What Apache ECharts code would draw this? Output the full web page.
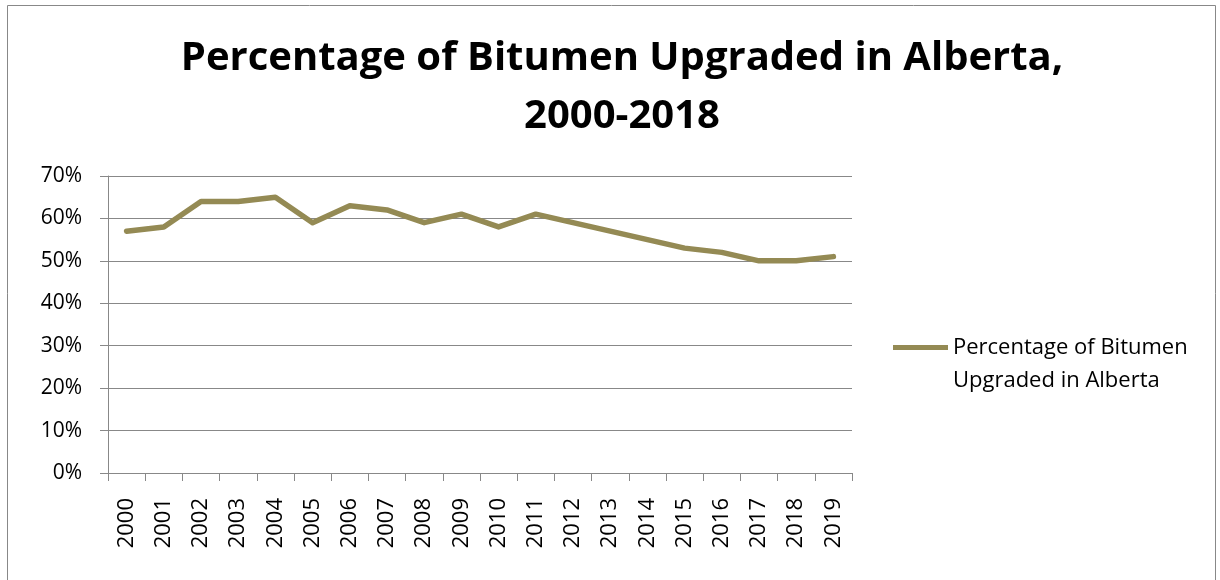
<!DOCTYPE html>
<html><head><meta charset="utf-8">
<script src="https://cdn.jsdelivr.net/npm/echarts@6/dist/echarts.min.js"></script>
<style>html,body{margin:0;padding:0;background:#fff}#c{width:1220px;height:580px}</style>
</head><body><div id="c"></div>
<script>
const years = ['2000','2001','2002','2003','2004','2005','2006','2007','2008','2009','2010','2011','2012','2013','2014','2015','2016','2017','2018','2019'];
const upgradedPct = [57,58,64,64,65,59,63,62,59,61,58,61,59,57,55,53,52,50,50,51];
const yTicks = [0,10,20,30,40,50,60,70];
const seriesName = 'Percentage of Bitumen Upgraded in Alberta';
const legendLines = ['Percentage of Bitumen','Upgraded in Alberta'];
const titleText = 'Percentage of Bitumen Upgraded in Alberta,\n2000-2018';

const chart = echarts.init(document.getElementById('c'), null, {renderer:'canvas'});
const font = '"Open Sans", "Liberation Sans", sans-serif';
chart.setOption({
  animation:false,
  backgroundColor:'#fff',
  textStyle:{fontFamily:font},
  graphic:[{type:'rect',shape:{x:7.5,y:5.5,width:1208,height:580},style:{fill:'none',stroke:'#888',lineWidth:1},silent:true}],
  title:{text:titleText,left:617,top:25,textAlign:'center',
    textStyle:{fontFamily:font,fontWeight:'bold',fontSize:40,lineHeight:58,color:'#000'}},
  legend:{show:true,left:893,top:298,padding:0,orient:'vertical',itemWidth:55,itemHeight:5,itemGap:4,icon:'rect',
    formatter:()=> '\n'+legendLines.join('\n'),
    textStyle:{fontFamily:font,fontSize:22,lineHeight:33,color:'#000'},
    data:[seriesName]},
  grid:{left:108,right:368,top:176,bottom:107,containLabel:false},
  xAxis:{type:'category',data:years,boundaryGap:true,
    axisLine:{lineStyle:{color:'#888',width:1}},
    axisTick:{show:true,length:8,lineStyle:{color:'#888'}},
    axisLabel:{rotate:90,fontFamily:font,fontSize:22,color:'#000',margin:25}},
  yAxis:{type:'value',min:0,max:70,interval:10,
    axisLine:{show:true,lineStyle:{color:'#888',width:1}},
    axisTick:{show:true,length:8,inside:false,lineStyle:{color:'#888'}},
    splitLine:{lineStyle:{color:'#888',width:1}},
    axisLabel:{fontFamily:font,fontSize:21,color:'#000',margin:26,
      formatter:v=> yTicks.includes(v)? v+'%':''}},
  series:[{name:seriesName,type:'line',data:upgradedPct,symbol:'none',
    lineStyle:{color:'#948A54',width:5.5,cap:'round',join:'round'},itemStyle:{color:'#948A54'}}]
});
</script></body></html>
